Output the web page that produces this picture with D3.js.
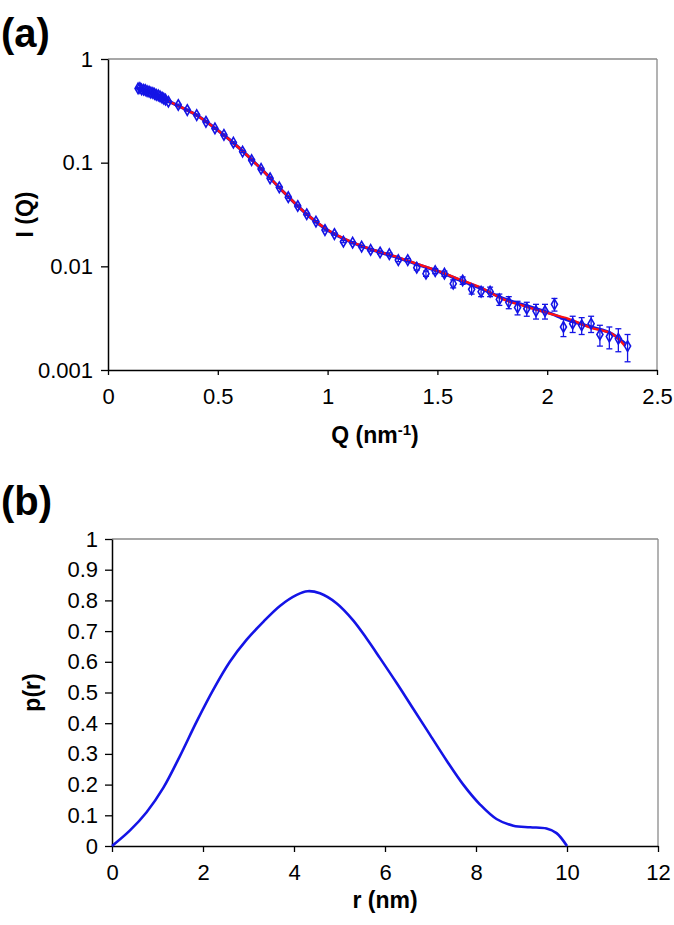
<!DOCTYPE html>
<html>
<head>
<meta charset="utf-8">
<script src="https://cdn.jsdelivr.net/npm/d3@7"></script>
<style>
  body { margin: 0; background: #fff; }
  svg text { font-family: "Liberation Sans", Arial, sans-serif; }
</style>
</head>
<body>
<div id="chart"></div>
<script>

// ---- panel (a) : scattering curve ----
// low Q cluster, then regular spacing
const qData = [0.137, 0.145, 0.153, 0.162, 0.170, 0.178, 0.187, 0.195, 0.204, 0.212, 0.220, 0.229, 0.237, 0.246, 0.254, 0.262,
  0.275, 0.320, 0.361, 0.404, 0.446, 0.487, 0.528, 0.571, 0.613, 0.654, 0.697, 0.738, 0.780, 0.821, 0.864, 0.905, 0.947, 0.988,
  1.031, 1.072, 1.114, 1.155, 1.196,
  1.239, 1.281, 1.322, 1.365, 1.406, 1.448, 1.490, 1.532, 1.572, 1.615, 1.656, 1.699, 1.740, 1.782, 1.825, 1.865, 1.907, 1.949,
  1.990, 2.033, 2.074, 2.116, 2.157, 2.200, 2.240, 2.283, 2.324, 2.366];

const iData = [0.520, 0.525, 0.510, 0.505, 0.500, 0.490, 0.485, 0.475, 0.470, 0.460, 0.450, 0.445, 0.435, 0.425, 0.415, 0.405,
  0.387, 0.360, 0.322, 0.288, 0.248, 0.214, 0.185, 0.156, 0.128, 0.106, 0.087, 0.0707, 0.0578, 0.0464, 0.0382, 0.0318, 0.0270, 0.0224,
  0.0205, 0.0173, 0.0169, 0.0155, 0.0144,
  0.0136, 0.0131, 0.0115, 0.0115, 0.0097, 0.0085, 0.0090, 0.0085, 0.0068, 0.0073, 0.0060, 0.0057, 0.0057, 0.0048, 0.0045, 0.0040, 0.0039, 0.0037,
  0.0037, 0.0043, 0.0026, 0.0028, 0.0027, 0.0028, 0.0022, 0.0021, 0.0020, 0.0017];

const iErr = [0.005, 0.005, 0.005, 0.005, 0.005, 0.005, 0.005, 0.005, 0.005, 0.005, 0.005, 0.005, 0.005, 0.005, 0.005, 0.005,
  0.008, 0.007, 0.006, 0.006, 0.005, 0.004, 0.004, 0.003, 0.003, 0.002, 0.002, 0.0015, 0.0012, 0.001, 0.0008, 0.0007, 0.0006, 0.0005,
  0.0005, 0.0004, 0.0004, 0.0004, 0.0004,
  0.0004, 0.0004, 0.0004, 0.0004, 0.0005, 0.0005, 0.0005, 0.0005, 0.0006, 0.0006, 0.0006, 0.0006, 0.0006, 0.0006, 0.0006, 0.0006, 0.0006, 0.0006,
  0.0006, 0.0006, 0.0005, 0.0005, 0.0005, 0.0005, 0.0005, 0.0005, 0.0005, 0.0005];

// fitted curves (blue + red overlap)
const qFit = [0.14, 0.2, 0.3, 0.4, 0.5, 0.6, 0.7, 0.8, 0.9, 1.0, 1.1, 1.2, 1.3, 1.4, 1.5, 1.6, 1.7, 1.8, 1.9, 2.0, 2.1, 2.2, 2.3, 2.355];
const redFit = [0.52, 0.47, 0.37, 0.29, 0.205, 0.137, 0.086, 0.052, 0.0325, 0.0225, 0.0175, 0.0146, 0.0126, 0.0107, 0.0091, 0.0075, 0.0062,
  0.0048, 0.0041, 0.00355, 0.0031, 0.00255, 0.0022, 0.0017];
const blueFit = [0.52, 0.47, 0.37, 0.29, 0.205, 0.137, 0.086, 0.052, 0.0325, 0.0223, 0.0174, 0.0145, 0.0125, 0.0106, 0.0090, 0.0074, 0.0061,
  0.0049, 0.0042, 0.0036, 0.0030, 0.0026, 0.0022, 0.0018];

const qTicks = [0, 0.5, 1, 1.5, 2, 2.5];
const qTickLabels = ['0', '0.5', '1', '1.5', '2', '2.5'];
const iTicks = [1, 0.1, 0.01, 0.001];
const iTickLabels = ['1', '0.1', '0.01', '0.001'];

// ---- panel (b) : distance distribution ----
const rVals = [0, 0.39, 0.76, 1.13, 1.49, 1.86, 2.23, 2.59, 2.96, 3.33, 3.69, 4.06, 4.3, 4.57, 4.94, 5.3, 5.6, 5.89,
  6.26, 6.62, 6.99, 7.36, 7.72, 8.09, 8.45, 8.82, 9.19, 9.55, 9.77, 10];
const pVals = [0, 0.050, 0.110, 0.190, 0.292, 0.405, 0.510, 0.600, 0.672, 0.731, 0.782, 0.818, 0.830, 0.823, 0.790, 0.735, 0.675, 0.612,
  0.530, 0.447, 0.362, 0.277, 0.200, 0.135, 0.088, 0.066, 0.061, 0.057, 0.042, 0];

const rTicks = [0, 2, 4, 6, 8, 10, 12];
const pTicks = [0, 0.1, 0.2, 0.3, 0.4, 0.5, 0.6, 0.7, 0.8, 0.9, 1];


const W = 674, H = 925;
const BLUE = '#1414e6', RED = '#ff1010', BORDER = '#8a8a8a';

const svg = d3.select('#chart').append('svg')
    .attr('width', W)
    .attr('height', H);

// draws the frame: black left/bottom axes, grey top/right
function frame(g, x0, x1, y0, y1) {
  g.append('line').attr('x1', x0).attr('x2', x1).attr('y1', y0).attr('y2', y0)
      .attr('stroke', BORDER).attr('stroke-width', 1.3);
  g.append('line').attr('x1', x1).attr('x2', x1).attr('y1', y0).attr('y2', y1)
      .attr('stroke', BORDER).attr('stroke-width', 1.3);
}

function styleAxis(ax) {
  ax.select('.domain').attr('stroke', '#000').attr('stroke-width', 1.5);
  ax.selectAll('.tick line').attr('stroke', '#000').attr('stroke-width', 1.3);
  ax.selectAll('.tick text')
      .attr('fill', '#000')
      .style('font-size', '22px');
}


// ================= panel (a) =================
const xA = d3.scaleLinear().domain([0, 2.5]).range([108, 657]);
const yA = d3.scaleLog().domain([0.001, 1]).range([370, 59]);

frame(svg, xA.range()[0], xA.range()[1], yA.range()[1], yA.range()[0]);

const xAxisA = svg.append('g')
    .attr('transform', `translate(0, ${yA.range()[0]})`)
    .call(d3.axisBottom(xA).tickValues(qTicks).tickSize(5).tickSizeOuter(0).tickPadding(13)
      .tickFormat((d, i) => qTickLabels[i]));
styleAxis(xAxisA);

const yAxisA = svg.append('g')
    .attr('transform', `translate(${xA.range()[0]}, 0)`)
    .call(d3.axisLeft(yA).tickValues(iTicks).tickSize(7).tickSizeOuter(0).tickPadding(8)
      .tickFormat((d, i) => iTickLabels[i]));
styleAxis(yAxisA);

const fitLine = d3.line()
    .x(d => xA(d[0]))
    .y(d => yA(d[1]))
    .curve(d3.curveMonotoneX);

svg.append('path')
    .datum(qFit.map((q, i) => [q, blueFit[i]]))
    .attr('d', fitLine)
    .attr('fill', 'none')
    .attr('stroke', BLUE)
    .attr('stroke-width', 3.2);

svg.append('path')
    .datum(qFit.map((q, i) => [q, redFit[i]]))
    .attr('d', fitLine)
    .attr('fill', 'none')
    .attr('stroke', RED)
    .attr('stroke-width', 2.4);

const pts = qData.map((q, i) => ({ q: q, I: iData[i], e: iErr[i] }));

// error bars
const eb = svg.append('g')
    .attr('stroke', BLUE)
    .attr('stroke-width', 1.3);

pts.forEach(d => {
  let x = xA(d.q), yLo = yA(d.I - d.e), yHi = yA(d.I + d.e);
  eb.append('line').attr('x1', x).attr('x2', x).attr('y1', yLo).attr('y2', yHi);
  eb.append('line').attr('x1', x - 3).attr('x2', x + 3).attr('y1', yLo).attr('y2', yLo);
  eb.append('line').attr('x1', x - 3).attr('x2', x + 3).attr('y1', yHi).attr('y2', yHi);
});

svg.append('g').selectAll('path')
    .data(pts)
    .enter()
    .append('path')
      .attr('d', d3.symbol().type(d3.symbolDiamond).size(32))
      .attr('transform', d => `translate(${xA(d.q)}, ${yA(d.I)})`)
      .attr('fill', 'none')
      .attr('stroke', BLUE)
      .attr('stroke-width', 1.6);

// labels
svg.append('text')
    .attr('x', 375)
    .attr('y', 443)
    .attr('text-anchor', 'middle')
    .style('font-size', '23px')
    .style('font-weight', 'bold')
    .text('Q (nm')
    .append('tspan').attr('dy', -8).style('font-size', '15px').text('-1')
    .select(function() { return this.parentNode; })
    .append('tspan').attr('dy', 8).text(')');

svg.append('text')
    .attr('transform', `translate(33, ${(yA.range()[0] + yA.range()[1]) / 2}) rotate(-90)`)
    .attr('text-anchor', 'middle')
    .style('font-size', '23px')
    .style('font-weight', 'bold')
    .text('I (Q)');

svg.append('text')
    .attr('x', 1)
    .attr('y', 47)
    .style('font-size', '40px')
    .style('font-weight', 'bold')
    .text('(a)');


// ================= panel (b) =================
const xB = d3.scaleLinear().domain([0, 12]).range([112, 658]);
const yB = d3.scaleLinear().domain([0, 1]).range([846, 539]);

frame(svg, xB.range()[0], xB.range()[1], yB.range()[1], yB.range()[0]);

const xAxisB = svg.append('g')
    .attr('transform', `translate(0, ${yB.range()[0]})`)
    .call(d3.axisBottom(xB).tickValues(rTicks).tickSize(6).tickSizeOuter(0).tickPadding(12)
      .tickFormat(d3.format('d')));
styleAxis(xAxisB);

const yAxisB = svg.append('g')
    .attr('transform', `translate(${xB.range()[0]}, 0)`)
    .call(d3.axisLeft(yB).tickValues(pTicks).tickSize(7).tickSizeOuter(0).tickPadding(7)
      .tickFormat(d => d === 0 || d === 1 ? d3.format('d')(d) : d3.format('.1f')(d)));
styleAxis(yAxisB);

const prLine = d3.line()
    .x(d => xB(d[0]))
    .y(d => yB(d[1]))
    .curve(d3.curveCatmullRom.alpha(0.5));

svg.append('path')
    .datum(rVals.map((r, i) => [r, pVals[i]]))
    .attr('d', prLine)
    .attr('fill', 'none')
    .attr('stroke', BLUE)
    .attr('stroke-width', 2.6);

svg.append('text')
    .attr('x', (xB.range()[0] + xB.range()[1]) / 2)
    .attr('y', 908)
    .attr('text-anchor', 'middle')
    .style('font-size', '23px')
    .style('font-weight', 'bold')
    .text('r (nm)');

svg.append('text')
    .attr('transform', `translate(40, ${(yB.range()[0] + yB.range()[1]) / 2}) rotate(-90)`)
    .attr('text-anchor', 'middle')
    .style('font-size', '23px')
    .style('font-weight', 'bold')
    .text('p(r)');

svg.append('text')
    .attr('x', 1)
    .attr('y', 515)
    .style('font-size', '40px')
    .style('font-weight', 'bold')
    .text('(b)');

</script>
</body>
</html>
